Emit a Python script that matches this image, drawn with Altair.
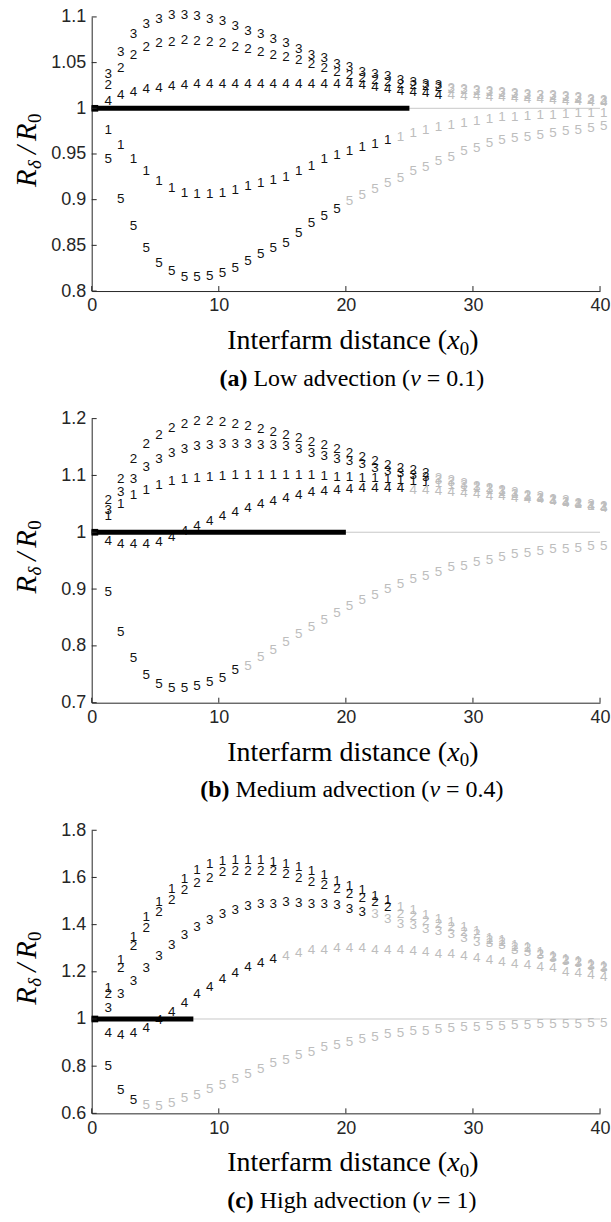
import altair as alt
import pandas as pd

X = list(range(1, 41))
XTICKS = [0, 10, 20, 30, 40]

# ---------------- panel (a) : low advection ----------------
A1 = [0.976, 0.960, 0.944, 0.931, 0.920, 0.913, 0.907, 0.906, 0.906, 0.907,
      0.911, 0.915, 0.918, 0.922, 0.925, 0.931, 0.937, 0.944, 0.949, 0.953,
      0.958, 0.961, 0.965, 0.969, 0.973, 0.976, 0.980, 0.982, 0.984, 0.986,
      0.988, 0.990, 0.991, 0.992, 0.993, 0.993, 0.994, 0.995, 0.995, 0.995]
A2 = [1.025, 1.044, 1.058, 1.067, 1.071, 1.073, 1.075, 1.074, 1.073, 1.071,
      1.067, 1.065, 1.062, 1.058, 1.056, 1.053, 1.048, 1.044, 1.040, 1.036,
      1.033, 1.031, 1.029, 1.027, 1.025, 1.024, 1.023, 1.021, 1.020, 1.019,
      1.018, 1.017, 1.016, 1.015, 1.014, 1.013, 1.012, 1.011, 1.0095, 1.0085]
A3 = [1.038, 1.062, 1.081, 1.092, 1.098, 1.102, 1.102, 1.101, 1.098, 1.095,
      1.090, 1.085, 1.081, 1.076, 1.071, 1.065, 1.058, 1.055, 1.049, 1.045,
      1.040, 1.038, 1.035, 1.031, 1.029, 1.027, 1.025, 1.022, 1.021, 1.020,
      1.019, 1.018, 1.017, 1.016, 1.015, 1.014, 1.013, 1.012, 1.0105, 1.0095]
A4 = [1.008, 1.014, 1.0175, 1.021, 1.0225, 1.0245, 1.026, 1.027, 1.027, 1.027,
      1.027, 1.027, 1.027, 1.027, 1.027, 1.027, 1.027, 1.027, 1.027, 1.027,
      1.026, 1.0236, 1.021, 1.019, 1.0175, 1.0164, 1.015, 1.014, 1.0135, 1.013,
      1.0125, 1.012, 1.011, 1.0105, 1.010, 1.009, 1.0085, 1.008, 1.007, 1.0065]
A5 = [0.945, 0.901, 0.871, 0.847, 0.831, 0.822, 0.815, 0.815, 0.816, 0.820,
      0.825, 0.833, 0.840, 0.847, 0.853, 0.863, 0.874, 0.882, 0.890, 0.898,
      0.905, 0.912, 0.918, 0.924, 0.931, 0.936, 0.942, 0.947, 0.953, 0.956,
      0.962, 0.965, 0.967, 0.969, 0.971, 0.973, 0.975, 0.976, 0.978, 0.981]
A_END = [23, 27, 27, 27, 19]
A_LINE = 25
A_YDOM = [0.8, 1.1]
A_YTICKS = [0.8, 0.85, 0.9, 0.95, 1.0, 1.05, 1.1]

# ---------------- panel (b) : medium advection ----------------
B1 = [1.028, 1.049, 1.065, 1.075, 1.084, 1.090, 1.094, 1.096, 1.098, 1.099,
      1.100, 1.100, 1.100, 1.100, 1.100, 1.100, 1.100, 1.099, 1.098, 1.097,
      1.096, 1.095, 1.093, 1.092, 1.090, 1.088, 1.086, 1.083, 1.080, 1.077,
      1.074, 1.071, 1.067, 1.064, 1.060, 1.057, 1.054, 1.050, 1.047, 1.044]
B2 = [1.057, 1.094, 1.129, 1.156, 1.172, 1.184, 1.191, 1.195, 1.195, 1.194,
      1.191, 1.187, 1.182, 1.176, 1.172, 1.166, 1.158, 1.153, 1.146, 1.139,
      1.133, 1.125, 1.119, 1.113, 1.109, 1.105, 1.096, 1.092, 1.087, 1.082,
      1.078, 1.074, 1.070, 1.065, 1.063, 1.059, 1.057, 1.052, 1.049, 1.046]
B3 = [1.040, 1.071, 1.094, 1.115, 1.129, 1.140, 1.146, 1.151, 1.154, 1.156,
      1.156, 1.156, 1.154, 1.154, 1.151, 1.146, 1.140, 1.135, 1.129, 1.125,
      1.120, 1.113, 1.108, 1.104, 1.100, 1.097, 1.092, 1.088, 1.084, 1.080,
      1.076, 1.072, 1.068, 1.064, 1.061, 1.057, 1.054, 1.050, 1.047, 1.044]
B4 = [0.985, 0.979, 0.979, 0.979, 0.982, 0.991, 1.002, 1.011, 1.020, 1.029,
      1.036, 1.043, 1.049, 1.055, 1.060, 1.065, 1.070, 1.073, 1.075, 1.076,
      1.077, 1.077, 1.077, 1.077, 1.075, 1.074, 1.073, 1.070, 1.069, 1.067,
      1.064, 1.063, 1.061, 1.059, 1.058, 1.055, 1.052, 1.049, 1.046, 1.042]
B5 = [0.894, 0.824, 0.778, 0.749, 0.733, 0.726, 0.725, 0.729, 0.736, 0.743,
      0.757, 0.765, 0.780, 0.792, 0.806, 0.821, 0.834, 0.846, 0.858, 0.870,
      0.880, 0.889, 0.900, 0.909, 0.918, 0.923, 0.930, 0.938, 0.941, 0.947,
      0.951, 0.957, 0.961, 0.964, 0.967, 0.970, 0.971, 0.973, 0.975, 0.976]
B_END = [26, 26, 26, 24, 11]
B_LINE = 20
B_YDOM = [0.7, 1.2]
B_YTICKS = [0.7, 0.8, 0.9, 1.0, 1.1, 1.2]

# ---------------- panel (c) : high advection ----------------
C1 = [1.130, 1.249, 1.348, 1.432, 1.496, 1.552, 1.594, 1.630, 1.655, 1.669,
      1.675, 1.675, 1.672, 1.665, 1.655, 1.644, 1.627, 1.609, 1.585, 1.562,
      1.545, 1.520, 1.503, 1.475, 1.461, 1.440, 1.425, 1.411, 1.390, 1.375,
      1.345, 1.335, 1.313, 1.305, 1.283, 1.268, 1.254, 1.246, 1.232, 1.224]
C2 = [1.108, 1.214, 1.309, 1.387, 1.454, 1.506, 1.548, 1.576, 1.599, 1.623,
      1.627, 1.627, 1.627, 1.627, 1.616, 1.598, 1.580, 1.566, 1.552, 1.531,
      1.514, 1.496, 1.475, 1.446, 1.435, 1.416, 1.404, 1.390, 1.369, 1.362,
      1.334, 1.327, 1.306, 1.299, 1.277, 1.263, 1.249, 1.242, 1.228, 1.221]
C3 = [1.045, 1.105, 1.162, 1.214, 1.266, 1.313, 1.355, 1.390, 1.418, 1.446,
      1.463, 1.478, 1.486, 1.489, 1.494, 1.492, 1.489, 1.486, 1.482, 1.468,
      1.454, 1.444, 1.425, 1.404, 1.397, 1.383, 1.373, 1.362, 1.345, 1.327,
      1.320, 1.313, 1.292, 1.285, 1.270, 1.258, 1.245, 1.238, 1.225, 1.218]
C4 = [0.942, 0.933, 0.939, 0.961, 0.996, 1.031, 1.066, 1.105, 1.137, 1.168,
      1.196, 1.221, 1.238, 1.256, 1.266, 1.280, 1.292, 1.294, 1.299, 1.299,
      1.299, 1.294, 1.294, 1.292, 1.289, 1.285, 1.277, 1.275, 1.266, 1.260,
      1.249, 1.242, 1.235, 1.228, 1.221, 1.214, 1.200, 1.193, 1.186, 1.176]
C5 = [0.799, 0.700, 0.655, 0.637, 0.633, 0.644, 0.665, 0.679, 0.703, 0.721,
      0.745, 0.768, 0.787, 0.813, 0.827, 0.848, 0.862, 0.880, 0.890, 0.904,
      0.914, 0.925, 0.937, 0.939, 0.947, 0.951, 0.956, 0.961, 0.965, 0.968,
      0.970, 0.971, 0.973, 0.975, 0.977, 0.977, 0.977, 0.980, 0.981, 0.982]
C_END = [23, 23, 21, 14, 3]
C_LINE = 8
C_YDOM = [0.6, 1.8]
C_YTICKS = [0.6, 0.8, 1.0, 1.2, 1.4, 1.6, 1.8]

CAPTIONS = [("(a)", "Low advection (", "= 0.1)"),
            ("(b)", "Medium advection (", "= 0.4)"),
            ("(c)", "High advection (", "= 1)")]
XTITLE = ("Interfarm distance (", "x", "0", ")")

# ---------------- styling ----------------
W = 510
HEIGHTS = [275, 285, 284]
AXIS_COLOR = "#262626"
ON_COLOR = "#111111"
OFF_COLOR = "#bdbdbd"
SERIF = "Liberation Serif"
SANS = "Liberation Sans"

# approximate Times/Liberation Serif advance widths (per em)
_W = {" ": .25, "(": .333, ")": .333, "=": .564, ".": .25, "I": .333, "H": .722,
      "L": .611, "M": .889, "a": .444, "b": .5, "c": .444, "d": .5, "e": .444,
      "f": .333, "g": .5, "h": .5, "i": .278, "l": .278, "m": .778, "n": .5,
      "o": .5, "r": .333, "s": .389, "t": .278, "u": .5, "v": .5, "w": .722, "x": .5}
_WB = {"(": .333, ")": .333, "a": .5, "b": .556, "c": .444}
_WI = {"v": .444, "x": .444}


def tw(s, size, bold=False, italic=False):
    tab = _WB if bold else (_WI if italic else {})
    return sum(tab.get(ch, _W.get(ch, .5)) for ch in s) * size


def seg_layer(text, px, py, size, italic=False, bold=False):
    return alt.Chart(pd.DataFrame({"t": [text]})).mark_text(
        align="left", baseline="alphabetic", font=SERIF, fontSize=size,
        fontStyle="italic" if italic else "normal",
        fontWeight="bold" if bold else "normal", color="black"
    ).encode(text="t:N", x=alt.value(px), y=alt.value(py))


def rot_layer(text, px, py, size, italic=True):
    return alt.Chart(pd.DataFrame({"t": [text]})).mark_text(
        align="left", baseline="alphabetic", font=SERIF, fontSize=size, angle=270,
        fontStyle="italic" if italic else "normal", color="black"
    ).encode(text="t:N", x=alt.value(px), y=alt.value(py))


def panel(series, ends, line_end, ydom, yticks, H, caption):
    rows = []
    for k, (vals, end) in enumerate(zip(series, ends), start=1):
        for xv, yv in zip(X, vals):
            rows.append({"x": xv, "y": yv, "lab": str(k),
                         "shade": "on" if xv <= end else "off"})
    df = pd.DataFrame(rows)

    xenc = alt.X("x:Q", scale=alt.Scale(domain=[0, 40], nice=False, zero=False),
                 axis=alt.Axis(values=XTICKS, title=None, format="d"))
    yenc = alt.Y("y:Q", scale=alt.Scale(domain=ydom, nice=False, zero=False),
                 axis=alt.Axis(values=yticks, title=None, format="~g"))

    grey_line = alt.Chart(pd.DataFrame({"x": [0], "x2": [40], "y": [1.0]})).mark_rule(
        color="#c8c8c8", strokeWidth=1).encode(x=xenc, x2="x2:Q", y=yenc)
    black_line = alt.Chart(pd.DataFrame({"x": [0], "x2": [line_end], "y": [1.0]})).mark_rule(
        color="black", strokeWidth=5, strokeCap="butt").encode(x=xenc, x2="x2:Q", y=yenc)
    marker = alt.Chart(pd.DataFrame({"x": [0.25], "y": [1.0]})).mark_square(
        size=45, color="black", opacity=1).encode(x=xenc, y=yenc)

    digits = alt.Chart(df).mark_text(
        align="left", baseline="middle", font=SANS, fontSize=13.5
    ).encode(
        x=xenc, y=yenc, text="lab:N",
        color=alt.Color("shade:N", scale=alt.Scale(domain=["on", "off"],
                                                     range=[ON_COLOR, OFF_COLOR]),
                        legend=None))

    yt = alt.Chart(pd.DataFrame({"y": yticks})).mark_rule(color=AXIS_COLOR).encode(
        y=yenc, x=alt.value(0), x2=alt.value(5))
    xt = alt.Chart(pd.DataFrame({"x": XTICKS})).mark_rule(color=AXIS_COLOR).encode(
        x=xenc, y=alt.value(H), y2=alt.value(H - 5))

    layers = [grey_line, digits, black_line, marker, yt, xt]

    # x-axis title: Interfarm distance (x_0)
    ts = 28
    p0, p1, p2, p3 = XTITLE
    w0 = tw(p0, ts)
    w1 = tw(p1, ts, italic=True)
    w2 = tw(p2, 19)
    w3 = tw(p3, ts)
    total = w0 + w1 + w2 + w3
    sx = W / 2 + 7 - total / 2
    by = H + 58
    layers += [seg_layer(p0, sx, by, ts),
               seg_layer(p1, sx + w0, by, ts, italic=True),
               seg_layer(p2, sx + w0 + w1, by + 6, 19),
               seg_layer(p3, sx + w0 + w1 + w2, by, ts)]

    # caption: (a) Low advection (v = 0.1)
    cs = 24
    tag, mid, tail = caption
    wt = tw(tag, cs, bold=True)
    sp = tw(" ", cs)
    wm = tw(mid, cs)
    wv = tw("v", cs, italic=True)
    wtail = tw(tail, cs)
    total = wt + sp + wm + wv + sp + wtail
    cx = W / 2 + 6 - total / 2
    cy = H + 95
    layers += [seg_layer(tag, cx, cy, cs, bold=True),
               seg_layer(mid, cx + wt + sp, cy, cs),
               seg_layer("v", cx + wt + sp + wm, cy, cs, italic=True),
               seg_layer(tail, cx + wt + sp + wm + wv + sp, cy, cs)]

    # y-axis title: R_delta / R_0  (rotated)
    bx = -56
    s = H / 2 + 33
    layers += [rot_layer("R", bx, s, 29),
               rot_layer("δ", bx + 5, s - 18, 19),
               rot_layer("/", bx, s - 33, 29),
               rot_layer("R", bx, s - 46, 29),
               rot_layer("0", bx + 5, s - 64, 19, italic=False)]

    return alt.layer(*layers).properties(width=W, height=H)


pa = panel([A1, A2, A3, A4, A5], A_END, A_LINE, A_YDOM, A_YTICKS, HEIGHTS[0], CAPTIONS[0])
pb = panel([B1, B2, B3, B4, B5], B_END, B_LINE, B_YDOM, B_YTICKS, HEIGHTS[1], CAPTIONS[1])
pc = panel([C1, C2, C3, C4, C5], C_END, C_LINE, C_YDOM, C_YTICKS, HEIGHTS[2], CAPTIONS[2])

chart = alt.vconcat(pa, pb, pc, spacing=19).properties(
    padding={"left": 13, "top": 6, "right": 0, "bottom": 2}
).configure_view(stroke=None).configure_axis(
    domainColor=AXIS_COLOR, domainWidth=1, ticks=False, tickSize=0, grid=False,
    labelFont=SANS, labelFontSize=18, labelColor=AXIS_COLOR, labelPadding=6,
    labelFlush=False
).resolve_scale(color="independent")

chart.save("out.html", embed_options={"renderer": "svg", "actions": False})
